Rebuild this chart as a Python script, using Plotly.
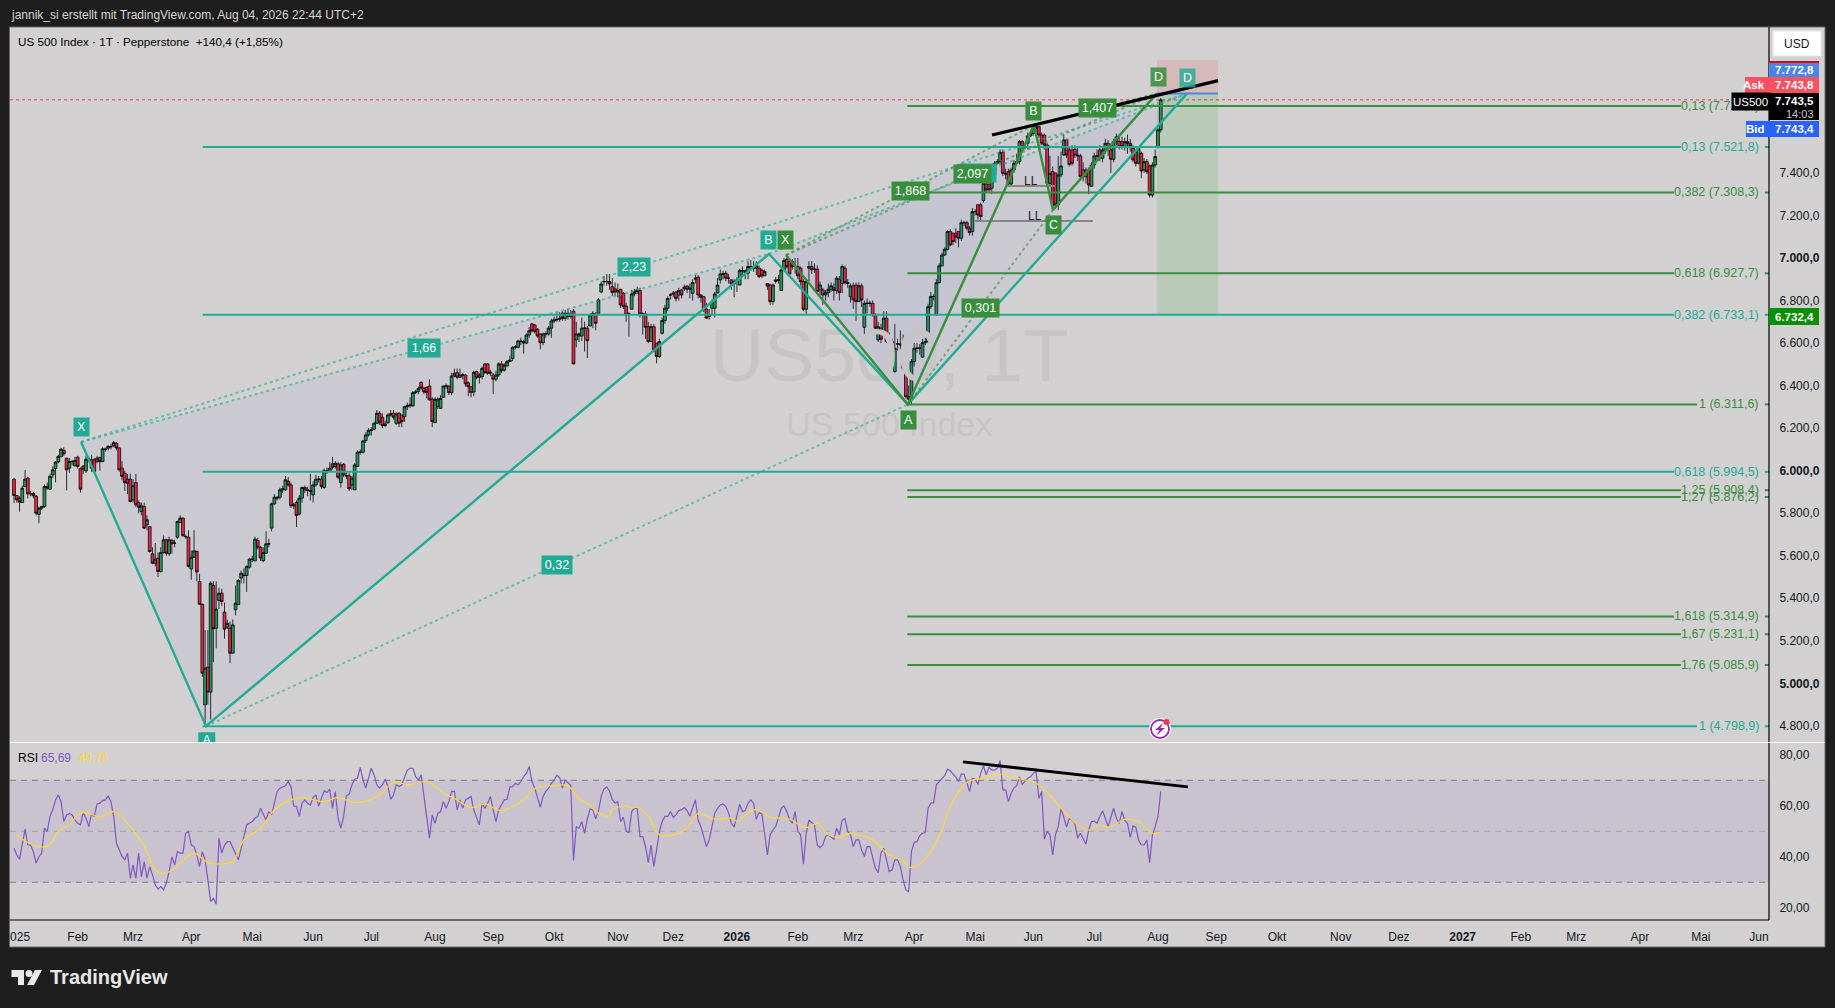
import plotly.graph_objects as go

W, H = 1835, 1008

# ---------------- OHLC, one line per calendar month ----------------
opens = [
 5960,5883,5870,5850,5925,5965,5891,5892,5880,5795,5824,5831,5926,5913,5980,6010,6042,6065,6095,6059,6012,6044,6023,
 6063,6009,6022,5999,6054,6051,6051,6043,6062,6043,6101,6106,6113,6117,6129,6107,6012,5988,5960,5960,
 5863,5944,5850,5808,5832,5745,5737,5609,5565,5589,5526,5615,5675,5609,5672,5659,5687,5756,5777,5690,5687,
 5538,5593,5620,5479,5372,4899,5076,4959,5460,5259,5390,5424,5335,5264,5260,5142,5346,5370,5495,5510,5507,5546,
 5584,5576,5672,5640,5577,5612,5656,5730,5844,5875,5875,5910,5910,5951,5933,5840,5850,5796,5871,5921,5910,5907,
 5886,5933,5960,5960,5921,6001,5996,6032,6020,6032,5944,6030,5976,5976,5933,5910,6020,6087,6087,6142,6168,
 6190,6195,6222,6270,6251,6212,6226,6262,6270,6223,6270,6262,6254,6301,6305,6305,6367,6372,6415,6387,6392,6398,6336,
 6226,6302,6293,6345,6398,6398,6367,6445,6461,6439,6450,6450,6413,6395,6370,6466,6439,6442,6502,6502,6458,
 6450,6430,6450,6502,6473,6492,6513,6527,6580,6580,6610,6607,6600,6638,6690,6685,6665,6643,6602,6643,6643,6670,
 6704,6709,6712,6740,6716,6740,6725,6750,6615,6643,6633,6670,6670,6680,6732,6735,6740,6840,6889,6889,6889,6865,6855,
 6840,6853,6834,6774,6735,6759,6831,6842,6847,6737,6737,6677,6607,6677,6600,6537,6646,6706,6764,6826,
 6830,6840,6826,6850,6855,6868,6853,6834,6900,6910,6826,6818,6760,6725,6764,6764,6835,6897,6925,6928,6905,6897,6878,
 6889,6873,6941,6940,6928,6960,6950,6952,6952,6943,6916,6880,6873,6795,6890,6897,6847,6944,6994,6983,6983,6960,
 6960,6952,6889,6759,6952,6960,6947,6947,6850,6850,6826,6837,6853,6860,6847,6900,6880,6952,6884,6818,
 6869,6873,6795,6869,6674,6787,6787,6787,6732,6615,6670,6649,6717,6607,6607,6466,6596,6596,6591,6482,6348,6336,
 6513,6576,6576,6534,6602,6607,6771,6819,6732,6884,6963,7014,7041,7124,7116,7116,7125,7093,7166,7166,7140,7125,
 7218,7250,7250,7270,7348,7348,7328,7390,7445,7453,7497,7398,7406,7348,7414,7445,7453,7547,7523,7539,7574,
 7586,7610,7617,7578,7578,7531,7351,7406,7400,7250,7390,7484,7555,7508,7508,7511,7484,7480,7414,7382,7414,7337,
 7437,7480,7508,7469,7508,7539,7508,7464,7547,7547,7547,7523,7547,7539,7516,7498,7445,7492,7414,7453,7433,7296,7437,
 7520,7603,
]
highs = [
 5965,5885,5880,5930,6003,5970,5905,5900,5885,5830,5835,5935,5945,5985,6020,6045,6075,6108,6110,6060,6060,6050,6065,
 6070,6015,6025,6070,6065,6075,6060,6070,6065,6110,6108,6120,6125,6140,6135,6110,6045,6000,5985,5985,
 5960,5985,5860,5850,5850,5790,5740,5640,5660,5615,5640,5695,5680,5690,5680,5675,5765,5790,5780,5700,5720,
 5625,5720,5625,5515,5375,5250,5250,5480,5480,5480,5450,5445,5380,5300,5290,5300,5460,5490,5530,5540,5555,5590,
 5600,5690,5685,5645,5640,5715,5680,5850,5890,5880,5920,5930,5975,5970,5945,5850,5860,5885,5925,5930,5925,5985,
 5950,5980,5975,5975,6010,6015,6040,6065,6045,6040,6040,6035,5995,5990,5975,6035,6095,6100,6145,6180,6200,
 6205,6230,6285,6280,6270,6235,6270,6285,6285,6275,6275,6262,6305,6320,6345,6375,6380,6395,6420,6395,6395,6430,6345,
 6345,6345,6355,6400,6410,6400,6460,6480,6480,6480,6460,6455,6420,6395,6470,6470,6460,6490,6505,6505,6475,
 6460,6470,6510,6515,6505,6520,6540,6585,6590,6615,6625,6615,6645,6675,6695,6690,6670,6645,6650,6655,6680,6715,
 6725,6745,6745,6750,6755,6760,6755,6760,6700,6650,6720,6700,6680,6740,6750,6745,6812,6890,6915,6925,6925,6905,6885,
 6880,6855,6840,6790,6745,6850,6855,6865,6860,6745,6750,6700,6690,6690,6600,6620,6720,6780,6820,6835,
 6845,6845,6860,6855,6875,6872,6880,6900,6920,6920,6830,6820,6790,6760,6805,6840,6905,6945,6940,6940,6925,6900,6900,
 6910,6950,6960,6945,6985,6990,6985,6985,6965,6950,6945,6880,6880,6880,6910,6920,6960,7000,7005,6995,6995,7000,
 7000,6960,6900,6900,6985,6985,6975,6965,6890,6860,6850,6880,6885,6880,6915,6915,6970,6965,6900,6880,
 6885,6885,6885,6880,6800,6810,6800,6800,6740,6700,6690,6750,6750,6650,6620,6690,6620,6660,6640,6510,6400,6525,
 6600,6600,6595,6620,6625,6785,6840,6830,6900,6975,7025,7050,7130,7135,7120,7140,7125,7180,7175,7175,7150,7235,
 7230,7255,7260,7360,7360,7345,7400,7455,7465,7510,7510,7420,7420,7425,7460,7490,7555,7555,7540,7590,7600,
 7625,7627,7620,7590,7585,7540,7480,7430,7400,7480,7500,7580,7560,7520,7530,7530,7520,7490,7450,7425,7425,7450,
 7495,7510,7530,7520,7560,7555,7530,7560,7585,7580,7570,7565,7580,7560,7530,7500,7525,7500,7470,7465,7440,7450,7510,
 7610,7752,
]
lows = [
 5847,5850,5807,5848,5925,5870,5880,5870,5790,5753,5815,5825,5910,5910,5965,5945,6035,6065,6070,5907,5990,6025,6020,
 6010,5897,5985,5990,6040,5995,5990,6035,6000,6040,6090,6095,6100,6110,6095,5995,5955,5905,5890,5850,
 5850,5830,5800,5790,5725,5720,5615,5560,5550,5500,5520,5610,5600,5600,5610,5640,5680,5755,5690,5680,5545,
 5487,5590,5480,5368,5030,4798.9,4900,4830,5100,5165,5350,5365,5210,5255,5095,5140,5320,5370,5470,5470,5430,5540,
 5570,5575,5630,5575,5570,5610,5640,5715,5840,5860,5865,5895,5905,5925,5825,5820,5735,5790,5850,5895,5880,5860,
 5850,5925,5945,5915,5915,5985,5995,6005,6010,5960,5920,5970,5960,5905,5910,5910,6020,6075,6080,6130,6160,
 6165,6190,6220,6215,6200,6205,6220,6255,6240,6215,6205,6205,6230,6285,6295,6300,6360,6360,6380,6360,6340,6330,6205,
 6225,6290,6290,6345,6385,6355,6355,6440,6430,6435,6430,6395,6350,6345,6350,6430,6410,6430,6455,6450,6445,
 6360,6420,6440,6460,6465,6490,6510,6515,6570,6575,6590,6550,6595,6625,6650,6645,6625,6570,6590,6625,6635,6625,
 6695,6700,6700,6705,6705,6710,6715,6500,6580,6605,6610,6560,6530,6680,6670,6660,6740,6835,6870,6870,6850,6820,6820,
 6815,6765,6760,6700,6630,6760,6820,6830,6720,6640,6620,6600,6605,6560,6505,6530,6640,6690,6750,6805,
 6815,6795,6800,6810,6845,6835,6810,6800,6880,6810,6790,6745,6715,6710,6730,6720,6840,6880,6900,6890,6880,6850,6815,
 6840,6880,6915,6900,6900,6940,6935,6920,6905,6905,6915,6850,6780,6780,6880,6880,6870,6940,6950,6910,6945,6925,
 6900,6870,6750,6735,6890,6925,6930,6835,6825,6780,6800,6815,6840,6800,6830,6800,6835,6875,6860,6790,
 6760,6705,6795,6770,6580,6740,6770,6725,6660,6605,6600,6640,6600,6570,6550,6460,6565,6570,6475,6340,6330,6311.6,
 6490,6555,6545,6530,6590,6600,6760,6800,6730,6880,6960,7010,7035,7055,7060,7070,7050,7080,7150,7130,7105,7105,
 7200,7180,7170,7260,7310,7310,7300,7380,7440,7440,7385,7370,7340,7340,7400,7440,7440,7510,7510,7510,7570,
 7575,7590,7565,7530,7510,7345,7340,7235,7230,7225,7380,7480,7470,7430,7435,7470,7455,7375,7360,7350,7300,7335,
 7420,7460,7455,7450,7490,7480,7400,7450,7530,7510,7510,7505,7490,7500,7450,7430,7440,7375,7400,7395,7285,7285,7425,
 7515,7590,
]
closes = [
 5883,5863,5852,5918,5960,5891,5892,5882,5800,5824,5831,5926,5918,5973,6004,6040,6067,6101,6079,6004,6043,6043,6048,
 6020,5913,6007,6054,6054,6012,5996,6059,6043,6103,6101,6114,6113,6132,6107,6004,5973,5944,5941,5855,
 5929,5839,5828,5835,5730,5769,5620,5565,5584,5526,5615,5675,5612,5675,5656,5659,5761,5777,5694,5690,5550,
 5593,5623,5524,5372,5048,5072,4959,5471,5257,5349,5424,5385,5255,5283,5142,5275,5377,5484,5518,5507,5549,5584,
 5584,5678,5640,5589,5615,5656,5656,5844,5875,5871,5910,5915,5957,5933,5835,5835,5789,5871,5921,5910,5907,5902,
 5933,5960,5960,5926,6001,6001,6012,6016,6035,5969,6027,5980,5976,5915,5965,6027,6087,6087,6140,6168,6190,
 6191,6223,6270,6228,6212,6220,6262,6267,6251,6267,6223,6231,6301,6305,6309,6367,6370,6387,6388,6370,6367,6333,6231,
 6336,6336,6340,6398,6398,6367,6445,6458,6439,6450,6450,6408,6395,6367,6462,6439,6450,6481,6461,6458,6462,
 6430,6450,6502,6470,6497,6513,6520,6580,6583,6610,6607,6600,6638,6658,6657,6654,6633,6602,6643,6643,6670,6704,
 6709,6712,6716,6716,6740,6725,6735,6502,6643,6633,6670,6670,6611,6732,6740,6693,6803,6878,6889,6889,6878,6838,6840,
 6847,6779,6772,6733,6737,6831,6842,6850,6737,6737,6674,6607,6677,6568,6537,6607,6706,6764,6810,6826,
 6834,6810,6847,6826,6863,6853,6858,6884,6905,6826,6815,6756,6717,6732,6795,6831,6873,6925,6925,6905,6905,6878,6889,
 6897,6941,6940,6931,6960,6960,6960,6963,6913,6916,6936,6869,6795,6873,6897,6897,6944,6988,6960,6925,6960,6960,
 6916,6889,6759,6889,6960,6945,6947,6842,6873,6826,6837,6853,6869,6847,6905,6837,6960,6884,6881,6869,
 6803,6795,6869,6803,6787,6787,6787,6732,6670,6677,6618,6717,6607,6607,6576,6576,6596,6591,6482,6348,6336,6513,
 6576,6576,6576,6602,6607,6771,6819,6819,6884,6963,7014,7041,7124,7061,7077,7098,7093,7166,7166,7140,7119,7218,
 7218,7202,7195,7351,7320,7320,7390,7445,7453,7497,7398,7395,7348,7414,7445,7453,7547,7523,7523,7574,7586,
 7610,7617,7578,7539,7531,7351,7398,7246,7250,7390,7433,7555,7484,7440,7445,7484,7480,7382,7382,7414,7343,7437,
 7480,7480,7469,7508,7539,7516,7464,7547,7570,7523,7523,7547,7539,7527,7461,7445,7516,7409,7453,7406,7296,7437,7477,
 7603,7743.5,
]

# ---------------- RSI and its average ----------------
rsi_values = [
 43.3,40.7,39,45.3,50.8,44.6,44.6,42,37.5,40,41.4,51.2,49.9,55.8,58.4,62.3,64.2,61.6,53.8,56.4,57,56.4,54.4,
 53.1,52.5,57.3,55.1,51.8,56.8,55.8,60.7,61,62,62.3,63.9,61.6,55.8,45.3,42.7,40.1,38.8,41.4,31.6,
 36.8,31.6,41.4,32.2,38.1,31.6,36.1,32.9,29,27.3,28.3,27,29.6,34.2,40,36.8,42,41.4,41.4,49.2,49.9,
 44.6,44,40.7,36.1,42,38.8,30.9,22.4,23.7,21.4,47.3,41.4,44.6,45.9,45.9,43.3,41.4,38.8,43.3,47.9,52.5,53.1,
 53.8,55.1,55.8,59,57,54.4,57.7,56.4,61,65.6,66.9,67.5,67.8,69.5,67.5,59.9,59.7,55.8,61,62.3,61,60.3,
 63.3,64.2,59.9,62.9,65.9,65.2,66.5,59,65.6,55.1,51.2,55.8,63.9,64.6,68.2,70.4,70.8,75,70.1,66.9,70.8,
 74.7,72.1,68.2,66.9,68.2,70.4,67.5,62.5,64.2,68.2,67.5,68.2,70.8,74,74.7,74.7,71.4,70.1,72.1,63.6,55.8,47.3,56.4,
 53.1,57,57.7,61.6,59,61.6,65.6,65.6,58.4,62.3,59,62.3,62.9,63.6,58.4,55.8,52.5,60.9,59,61,63.6,
 58.4,53.8,58.4,60.3,62.3,62.5,67.3,67.5,68.8,68.2,69.5,71.4,72.7,75.4,69.5,66.9,63.6,59.4,63.6,65.6,66.9,68.8,
 70.1,72,71,66.9,70.1,69,68,38.5,51.8,51.2,53.8,49.2,54.9,58.8,58.3,54.9,57.9,63.7,66.6,67.3,65.7,62.4,61.1,
 61.6,53.8,55.5,49.9,49.5,57.7,59,59,47.9,47.9,44,37.7,44.6,36.1,42.7,49.9,53.8,55.8,55.8,57.7,
 55.5,56.4,58.1,58.4,59.3,58.1,56,59,62.3,54.4,51.8,47.9,44,46.6,52.5,57.1,59,60.3,60.7,59.7,57.1,53.1,51.6,
 56.4,60.6,57.7,58.1,61,62.3,61,54.7,57.3,56.8,49.2,40.7,48.6,50.5,51.8,55.8,59,59.9,57.7,54.7,53.1,57.7,
 49.9,48.6,37.1,49.2,54.4,53.4,52.5,44.6,43.6,44.6,47.9,48.6,47.9,46.9,51.2,48.6,54.4,55,49.9,48.6,
 44,46.6,46.6,42.7,40.1,44,44,39.4,35.5,33.8,41.4,43.3,38.8,34.2,34.8,38.8,38.8,36.1,30.9,27,26.3,42,
 45.6,45.9,48.3,49.2,49.5,59,61,61.2,68.2,69.5,70.4,71.8,74.3,73.8,72.4,71.2,69.5,72.4,72.4,68.8,65.6,70.8,
 70.4,68.4,72.7,75.6,72.1,75.1,74,74,74.7,77.7,66.2,66.2,61.6,64.9,66.9,67.9,71.4,68.4,69.5,70.8,71.4,
 72.7,73.4,62.9,65.6,46.9,49.9,48.6,40.7,48.6,51.8,59,55.5,51.6,55.1,54.4,53.1,47.3,49.2,47.3,44.9,50.5,53.8,
 54,53.1,55.8,58,55.1,51.8,55.5,59,55.1,53.1,57.7,54.4,53,47.6,52.1,51.6,46.6,44.6,44.6,46.6,37.7,48.6,51.8,
 55.8,65.69,
]
ma_bars = [1,5,12,16,20,23,26,31,36,42,47,51,53,57,60,65,70,75,79,83,89,94,99,104,112,117,123,129,133,137,143,148,150,155,159,165,170,176,184,188,195,200,
           204,208,211,215,216,221,223,225,229,233,239,242,245,247,249,253,259,261,267,270,273,280,285,287,290,294,298,301,309,312,316,321,323,328,334,338,344,350,356,362,369,374,378,384,388,391,396,401,406,411,414]
ma_values = [48.6,45.6,44,49.9,52.5,56.4,57.3,55.5,57.7,51.8,44,34.8,33.5,34.6,37.5,41.4,37.7,37.2,38.1,46.6,51.2,58.4,62,63.3,61.6,63.3,61.2,62.5,65.2,69.1,68.2,69.5,69.2,64.9,62.9,59.3,60.7,58.1,62.3,66.6,67.9,67.8,
             62.7,60.3,57,56.1,58.4,59.9,59,59.4,55.8,48.6,48.8,50.5,54.4,57,56.4,54.7,55.1,54,58.4,57.7,55.5,54.7,51.6,51.6,53.1,48.6,47.6,49,47.3,44.6,40.7,38.5,35.9,38.1,47.9,59.7,69.1,70.8,72.4,70.8,68.8,64.2,59,52.5,50.5,52.1,51.8,54.7,53.8,49.2,49.76]
rsi_band = [30, 70]
rsi_guides = [(70, "#787b86"), (50, "#a3a3a8"), (30, "#787b86")]

# ---------------- axes ----------------
month_lengths = [23,20,21,22,22,21,23,21,22,23,20,23,22,20,22,22,21,22,23,21,22,23,21,23,21,20,23,22,21,22]
month_labels = ["2025","Feb","Mrz","Apr","Mai","Jun","Jul","Aug","Sep","Okt","Nov","Dez","<b>2026</b>","Feb","Mrz","Apr","Mai","Jun","Jul","Aug","Sep","Okt","Nov","Dez","<b>2027</b>","Feb","Mrz","Apr","Mai","Jun"]
price_ticks = [4800,5000,5200,5400,5600,5800,6000,6200,6400,6600,6800,7000,7200,7400]
price_tick_text = ["4.800,0","<b>5.000,0</b>","5.200,0","5.400,0","5.600,0","5.800,0","<b>6.000,0</b>","6.200,0","6.400,0","6.600,0","6.800,0","<b>7.000,0</b>","7.200,0","7.400,0"]
rsi_ticks = [20,40,60,80]
rsi_tick_text = ["20,00","40,00","60,00","80,00"]

# ---------------- harmonic patterns: (bar position, price) ----------------
teal_x = [24.2,69.3,272.6,322.7,423.5]
teal_p = [6135,4798.9,7019,6311.6,7772.8]
green_x = [278.7,322.7,368.2,375.1,412.6]
green_p = [7014,6311.6,7625,7226,7772.8]
TEAL, GREEN = "#22ab94", "#388e3c"

# ---------------- fib levels ----------------
teal_levels = [(7521.8,"0,13 (7.521,8)",601.8),(6733.1,"0,382 (6.733,1)",599.3),(5994.5,"0,618 (5.994,5)",599.3),(4798.9,"1 (4.798,9)",607.6)]
green_levels = [(7714.7,"0,13 (7.714,7)",601.8),(7308.3,"0,382 (7.308,3)",599.3),(6927.7,"0,618 (6.927,7)",599.3),(6311.6,"1 (6.311,6)",607.6),
                (5908.4,"1,25 (5.908,4)",601.8),(5876.2,"1,27 (5.876,2)",601.8),(5314.9,"1,618 (5.314,9)",599.3),(5231.1,"1,67 (5.231,1)",601.8),(5085.9,"1,76 (5.085,9)",601.8)]
LEVEL_START_TEAL, LEVEL_START_GREEN = 68.1, 322.5
DASH_START, X_MIN, X_END = 632.1, -1.44, 633.6

FONT = "Liberation Sans"
DARK = "#1e1e1e"
px = lambda v: v / W
py = lambda v: 1 - v / H

bars = list(range(len(closes)))
fig = go.Figure()

def fill(xs, ps):
    fig.add_trace(go.Scatter(x=xs + xs[:1], y=ps + ps[:1], mode="lines", line=dict(width=0), fill="toself",
                             fillcolor="rgba(70,80,200,0.045)", hoverinfo="skip", showlegend=False))

for xs, ps in ((teal_x, teal_p), (green_x, green_p)):
    fill(xs[:3], ps[:3])
    fill(xs[2:], ps[2:])

# watermark beneath the candles
fig.add_trace(go.Scatter(x=[316], y=[6510], mode="text", text=["US500, 1T"], textposition="middle center",
                         textfont=dict(size=75, color="#c6c4c5", family=FONT), showlegend=False, hoverinfo="skip"))
fig.add_trace(go.Scatter(x=[316], y=[6205], mode="text", text=["US 500 Index"], textposition="middle center",
                         textfont=dict(size=34, color="#c6c4c5", family=FONT), showlegend=False, hoverinfo="skip"))

fig.add_trace(go.Candlestick(
    x=bars,
    open=opens,
    high=[max(h, o, c) for h, o, c in zip(highs, opens, closes)],
    low=[min(l, o, c) for l, o, c in zip(lows, opens, closes)],
    close=closes,
    increasing=dict(line=dict(color="#000000", width=0.8), fillcolor="#1f9e55"),
    decreasing=dict(line=dict(color="#000000", width=0.8), fillcolor="#f7253f"),
    whiskerwidth=0, showlegend=False, hoverinfo="skip"))

# current price
fig.add_trace(go.Scatter(x=[X_MIN, X_END], y=[closes[-1]] * 2, mode="lines", line=dict(color="#f23645", width=1, dash="dot"),
                         showlegend=False, hoverinfo="skip"))

# position tool line
fig.add_trace(go.Scatter(x=[412.6, 434.7], y=[7772.8, 7772.8], mode="lines", line=dict(color="#4a86e8", width=2), showlegend=False, hoverinfo="skip"))

# levels
for levels, col, start in ((teal_levels, TEAL, LEVEL_START_TEAL), (green_levels, GREEN, LEVEL_START_GREEN)):
    xs, ys = [], []
    for val, txt_, end in levels:
        xs += [start, end, None, DASH_START, X_END, None]
        ys += [val, val, None, val, val, None]
    fig.add_trace(go.Scatter(x=xs, y=ys, mode="lines", line=dict(color=col, width=2), showlegend=False, hoverinfo="skip"))

# LL lines
fig.add_trace(go.Scatter(x=[358.8, 375.8, None, 346.9, 389.5], y=[7338, 7338, None, 7174, 7174], mode="lines",
                         line=dict(color="#868686", width=2), showlegend=False, hoverinfo="skip"))

# pattern lines
for xs, ps, col, alpha in ((teal_x, teal_p, TEAL, "rgba(34,171,148,0.6)"), (green_x, green_p, GREEN, "rgba(56,142,60,0.6)")):
    dx, dy = [], []
    for a, b in ((0, 2), (1, 3), (2, 4), (0, 4)):
        dx += [xs[a], xs[b], None]
        dy += [ps[a], ps[b], None]
    fig.add_trace(go.Scatter(x=dx, y=dy, mode="lines", line=dict(color=alpha, width=2, dash="dot"), showlegend=False, hoverinfo="skip"))
    fig.add_trace(go.Scatter(x=xs, y=ps, mode="lines", line=dict(color=col, width=2.4), showlegend=False, hoverinfo="skip"))

# black trend line
fig.add_trace(go.Scatter(x=[353.1, 434.7], y=[7578, 7834], mode="lines", line=dict(color="#000000", width=3.2), showlegend=False, hoverinfo="skip"))

# teal A label, cut by the pane edge
fig.add_trace(go.Scatter(x=[69.6], y=[4730], mode="markers+text", text=["A"], textposition="middle center",
                         textfont=dict(color="white", size=12, family=FONT),
                         marker=dict(symbol="square", size=17, color=TEAL), showlegend=False, hoverinfo="skip"))

# RSI pane
rsi_axis = dict(xaxis="x2", yaxis="y2", showlegend=False, hoverinfo="skip")
fig.add_trace(go.Scatter(x=[X_MIN, X_END, X_END, X_MIN, X_MIN], y=[rsi_band[0], rsi_band[0], rsi_band[1], rsi_band[1], rsi_band[0]],
                         mode="lines", fill="toself", fillcolor="rgba(126,87,194,0.10)", line=dict(width=0), **rsi_axis))
for lvl, col in rsi_guides:
    fig.add_trace(go.Scatter(x=[X_MIN, X_END], y=[lvl, lvl], mode="lines", line=dict(color=col, width=1, dash="6px,5px"), **rsi_axis))
fig.add_trace(go.Scatter(x=bars, y=rsi_values, mode="lines", line=dict(color="#7e57c2", width=1.2), **rsi_axis))
fig.add_trace(go.Scatter(x=ma_bars, y=ma_values, mode="lines", line=dict(color="#fdd835", width=1.2, shape="spline"), **rsi_axis))
fig.add_trace(go.Scatter(x=[342.6, 423.8], y=[77.2, 67.4], mode="lines", line=dict(color="#000000", width=3), **rsi_axis))

shapes = []
def rect(x0, y0, x1, y1, color, line=None, layer="above"):
    shapes.append(dict(type="rect", xref="paper", yref="paper", x0=px(x0), x1=px(x1), y0=py(y1), y1=py(y0),
                       fillcolor=color, line=dict(width=1 if line else 0, color=line or color), layer=layer))
def hline(x0, x1, y, color, width=1):
    shapes.append(dict(type="line", xref="paper", yref="paper", x0=px(x0), x1=px(x1), y0=py(y), y1=py(y), line=dict(color=color, width=width), layer="above"))
def vline(x, y0, y1, color, width=1):
    shapes.append(dict(type="line", xref="paper", yref="paper", x0=px(x), x1=px(x), y0=py(y1), y1=py(y0), line=dict(color=color, width=width), layer="above"))

# position tool areas
shapes.append(dict(type="rect", xref="x", yref="y", x0=412.6, x1=434.7, y0=7772.8, y1=7931, fillcolor="rgba(242,54,69,0.15)", line=dict(width=0), layer="below"))
shapes.append(dict(type="rect", xref="x", yref="y", x0=412.6, x1=434.7, y0=6732.4, y1=7772.8, fillcolor="rgba(76,175,80,0.18)", line=dict(width=0), layer="below"))

# dark page frame around the light chart, on top so it cuts what crosses it
rect(0, 0, W, 27, DARK)
rect(0, 947, W, H, DARK)
rect(0, 0, 9.5, H, DARK)
rect(1825, 0, W, H, DARK)
hline(9.5, 1825, 27, "#6b6b6b")
hline(9.5, 1825, 947, "#6b6b6b")
vline(9.5, 27, 947, "#6b6b6b")
vline(1825, 27, 947, "#6b6b6b")
# axes
vline(1769, 27, 920, "#000000", 1.2)
hline(10, 1769, 920, "#000000", 1.2)
hline(10, 1825, 742.5, "#ffffff", 1.2)
# price scale labels
rect(1773, 31, 1821, 56, "#ffffff", line="#e8e8e8")
rect(1769, 61, 1819, 63, "#e60000")
rect(1769, 63, 1819, 77, "#4a86e8")
rect(1769, 77, 1819, 93, "#f7525f")
rect(1745, 77, 1769, 93, "#f7525f")
rect(1769, 93, 1819, 120, "#000000")
rect(1769, 121, 1819, 137, "#2962ff")
rect(1746, 121, 1769, 137, "#2962ff")
rect(1769, 308, 1819, 325, "#089000")
# logo
rect(11.5, 970, 24, 977, "#e8e8e8")
rect(18, 970, 24, 985, "#e8e8e8")
shapes.append(dict(type="circle", xref="paper", yref="paper", x0=px(25.5), x1=px(32.5), y0=py(977), y1=py(970), fillcolor="#e8e8e8", line=dict(width=0)))
shapes.append(dict(type="path", xref="paper", yref="paper", fillcolor="#e8e8e8", line=dict(width=0),
                   path=f"M{px(35)},{py(970)} L{px(42)},{py(970)} L{px(34)},{py(985)} L{px(27)},{py(985)} Z"))
# alert icon
shapes.append(dict(type="circle", xref="paper", yref="paper", x0=px(1149), x1=px(1171), y0=py(740), y1=py(718), fillcolor="#ffffff", line=dict(width=0)))
shapes.append(dict(type="circle", xref="paper", yref="paper", x0=px(1151), x1=px(1169), y0=py(738), y1=py(720), fillcolor="#ffffff", line=dict(width=1.8, color="#9c27b0")))
shapes.append(dict(type="path", xref="paper", yref="paper", fillcolor="#9c27b0", line=dict(width=0),
                   path=f"M{px(1163)},{py(723)} L{px(1155)},{py(730)} L{px(1159.5)},{py(730)} L{px(1156.5)},{py(735.5)} L{px(1165)},{py(728)} L{px(1160.5)},{py(728)} Z"))
shapes.append(dict(type="circle", xref="paper", yref="paper", x0=px(1163.5), x1=px(1169.5), y0=py(725), y1=py(719), fillcolor="#f23645", line=dict(width=0)))

ann = []
def txt(x, y, text, color="#000000", size=12, anchor="left", family=FONT):
    ann.append(dict(xref="paper", yref="paper", x=px(x), y=py(y), text=text, showarrow=False, xanchor=anchor, yanchor="middle",
                    font=dict(color=color, size=size, family=family), borderpad=0))
def box(i, p, text, color, w):
    ann.append(dict(xref="x", yref="y", x=i, y=p, text=text, showarrow=False, xanchor="center", yanchor="middle", width=w, height=18,
                    bgcolor=color, align="center", font=dict(color="#ffffff", size=12.5, family=FONT), borderpad=0))

txt(10, 15, "jannik_si erstellt mit TradingView.com, Aug 04, 2026 22:44 UTC+2", "#d6d6d6", 12)
txt(17, 42, "US 500 Index · 1T · Pepperstone&nbsp;&nbsp;+140,4 (+1,85%)", "#000000", 11.7)
txt(17, 758, "RSI", "#000000", 12)
txt(40, 758, "65,69", "#7e57c2", 12)
txt(77, 758, "49,76", "#fdd835", 12)
txt(49, 977, "<b>TradingView</b>", "#e8e8e8", 20)

for levels, col in ((teal_levels, TEAL), (green_levels, GREEN)):
    for val, t, end in levels:
        ann.append(dict(xref="x", yref="y", x=630.6, y=val, text=t, showarrow=False, xanchor="right", yanchor="middle",
                        font=dict(color=col, size=12.5, family=FONT)))

# letter and ratio boxes (bar position, price)
box(24.5, 6206, "X", TEAL, 15)
box(272.5, 7085, "B", TEAL, 15)
box(278.7, 7085, "X", GREEN, 15)
box(323, 6239, "A", GREEN, 15)
box(148, 6577, "1,66", TEAL, 32)
box(223.8, 6958, "2,23", TEAL, 32)
box(196, 5557, "0,32", TEAL, 30)
box(348, 7400, "&nbsp;", TEAL, 36)
box(323.5, 7315, "1,868", GREEN, 37)
box(346.2, 7395, "2,097", GREEN, 37)
box(391, 7705, "1,407", GREEN, 37)
box(349, 6765, "0,301", GREEN, 37)
box(368.2, 7691, "B", GREEN, 15)
box(375.4, 7155, "C", GREEN, 15)
box(413.3, 7851, "D", "rgba(56,142,60,0.85)", 15)
box(423.5, 7846, "D", "rgba(34,171,148,0.8)", 15)
# LL texts
ann.append(dict(xref="x", yref="y", x=367, y=7362, text="LL", showarrow=False, font=dict(size=12, color="#222222", family=FONT)))
ann.append(dict(xref="x", yref="y", x=368.5, y=7198, text="LL", showarrow=False, font=dict(size=12, color="#222222", family=FONT)))

# price scale texts
txt(1797, 44, "USD", "#131722", 12, "center")
txt(1815, 70, "<b>7.772,8</b>", "#ffffff", 11.5, "right")
txt(1766, 85, "<b>Ask</b>", "#ffffff", 11.5, "right")
txt(1815, 85, "<b>7.743,8</b>", "#ffffff", 11.5, "right")
ann.append(dict(xref="paper", yref="paper", x=px(1750.5), y=py(101.5), text="US500", showarrow=False, xanchor="center", yanchor="middle",
                width=37, height=17, bgcolor="#000000", font=dict(color="#ffffff", size=11.5, family=FONT), borderpad=0))
txt(1815, 101.5, "<b>7.743,5</b>", "#ffffff", 11.5, "right")
txt(1815, 114, "14:03", "#c4c4c4", 11, "right")
txt(1766, 129, "<b>Bid</b>", "#ffffff", 11.5, "right")
txt(1815, 129, "<b>7.743,4</b>", "#ffffff", 11.5, "right")
txt(1815, 316.5, "<b>6.732,4</b>", "#ffffff", 11.5, "right")

starts, pos = [], 0
for n in month_lengths:
    starts.append(pos)
    pos += n
starts[0] = 1

common_x = dict(range=[X_MIN, X_END], showgrid=False, zeroline=False, domain=[px(10), px(1769)], showline=False, automargin=False)
fig.update_layout(
    width=W, height=H, margin=dict(l=0, r=0, t=0, b=0, pad=0), autosize=False, boxgap=0, boxgroupgap=0,
    paper_bgcolor="#d2d0d1", plot_bgcolor="rgba(0,0,0,0)", showlegend=False,
    hovermode=False, dragmode=False, shapes=shapes, annotations=ann,
    font=dict(family=FONT, size=12, color="#131722"),
    xaxis=dict(common_x, anchor="y", showticklabels=False, ticks="", rangeslider=dict(visible=False)),
    xaxis2=dict(common_x, anchor="y2", tickmode="array", tickvals=starts, ticktext=month_labels,
                ticks="outside", ticklen=6, tickcolor="rgba(0,0,0,0)", tickfont=dict(size=12, color="#131722", family=FONT)),
    yaxis=dict(domain=[py(742.5), py(27)], range=[4722, 8086], side="right", anchor="x", showgrid=False, zeroline=False, automargin=False,
               tickmode="array", tickvals=price_ticks, ticktext=price_tick_text, ticks="outside", ticklen=7,
               tickcolor="rgba(0,0,0,0)", tickfont=dict(size=12, color="#131722", family=FONT)),
    yaxis2=dict(domain=[py(920), py(743)], range=[15.2, 84.6], side="right", anchor="x2", showgrid=False, zeroline=False, automargin=False,
                tickmode="array", tickvals=rsi_ticks, ticktext=rsi_tick_text, ticks="outside", ticklen=7,
                tickcolor="rgba(0,0,0,0)", tickfont=dict(size=12, color="#131722", family=FONT)),
)

fig.write_html("out.html", config={"displayModeBar": False},
               post_script="document.body.style.margin='0';document.documentElement.style.overflow='hidden';")
